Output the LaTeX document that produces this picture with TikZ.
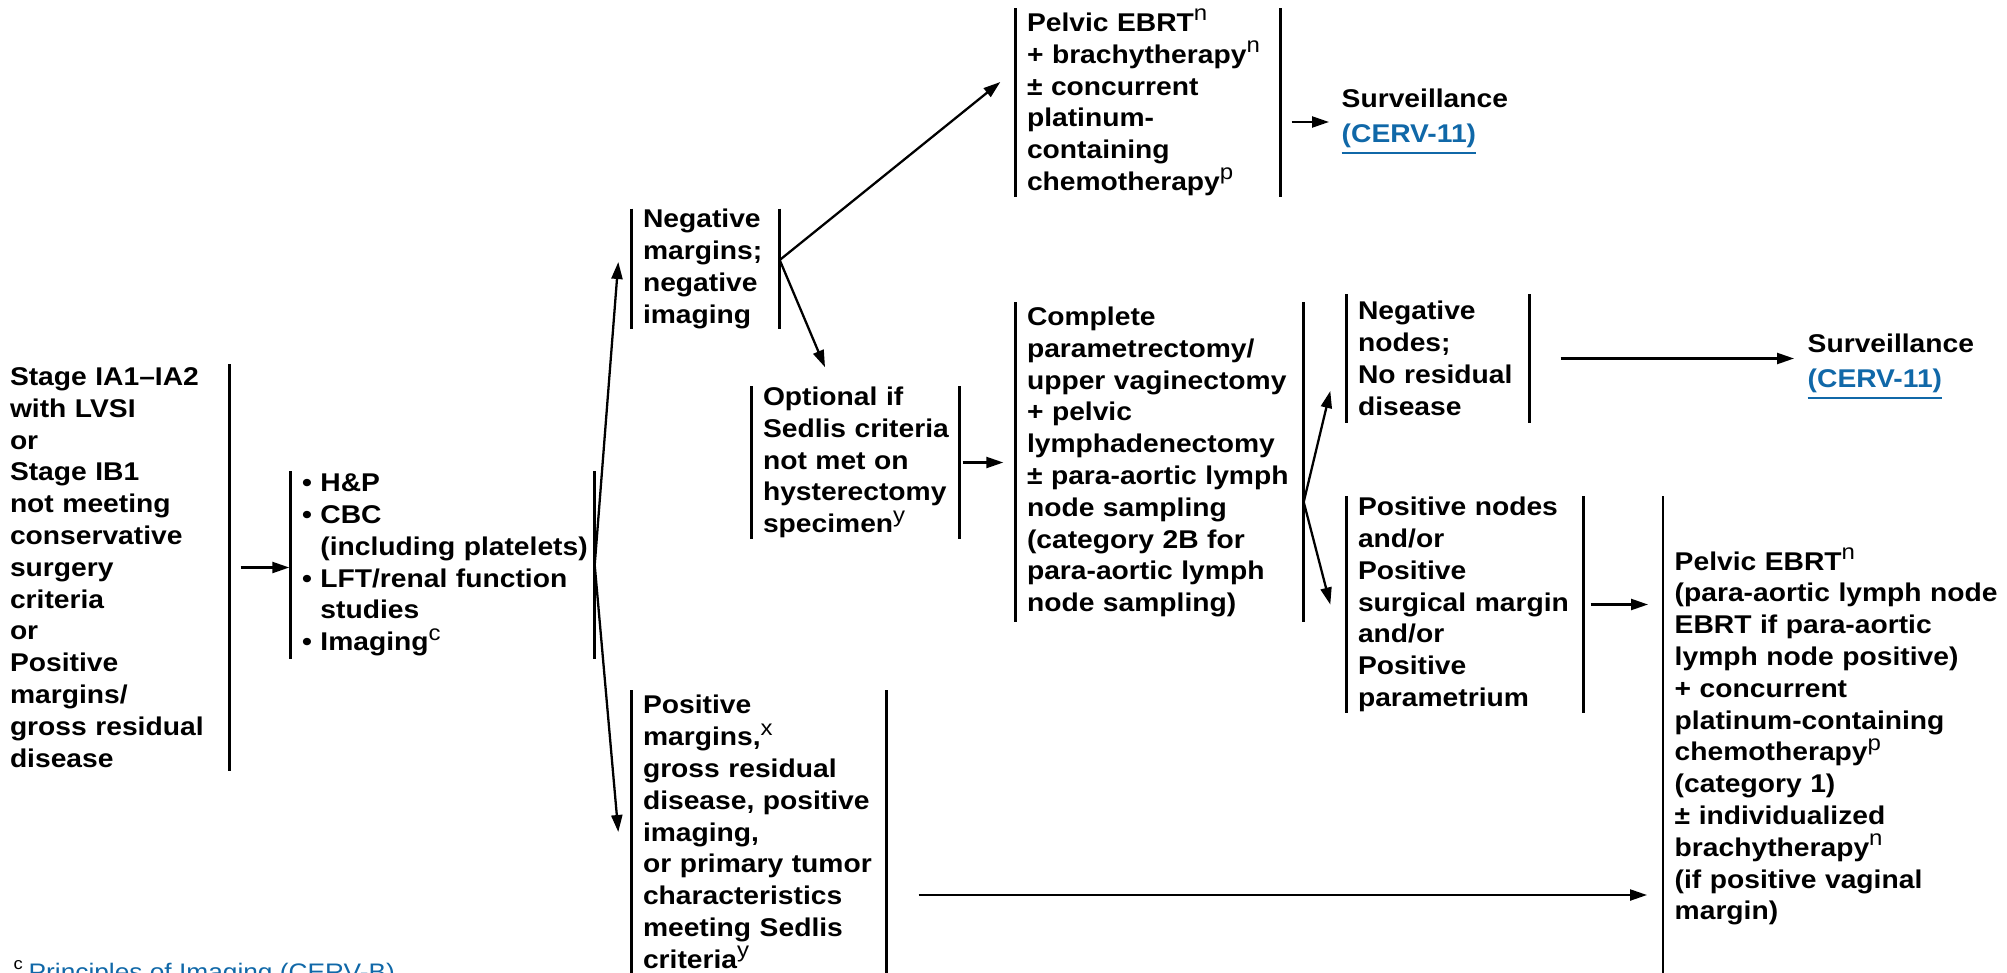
\documentclass[tikz,border=0pt]{standalone}
\usepackage{fontspec}
\setmainfont{Liberation Sans}[FakeStretch=1.10]
\usetikzlibrary{arrows.meta}
\definecolor{linkblue}{RGB}{16,104,168}
\newcommand{\fnref}[1]{\textsuperscript{\fontsize{6.2}{6}\selectfont\mdseries #1}}

\begin{document}
\begin{tikzpicture}[
  box/.style={inner sep=0pt, align=left, font=\fontsize{7.3}{9.05}\selectfont\bfseries},
  bar/.style={line width=0.75pt},
  arr/.style={line width=0.65pt, -{Triangle[length=1.7mm,width=1.1mm]}}
]
  \useasboundingbox (0,0) rectangle (20.07,9.72);

  \node[box, text width=2.19cm, minimum height=4.05cm] at (1.195,4.045) (stage)
    {Stage IA1–IA2\\ with LVSI\\ or\\ Stage IB1\\ not meeting\\ conservative\\ surgery\\ criteria\\ or\\ Positive\\ margins/\\ gross residual\\ disease};

  \node[box, text width=2.92cm, minimum height=1.86cm] at (4.48,4.07) (workup)
    {• H\&P\\ • CBC\\ \phantom{• }(including platelets)\\ • LFT/renal function\\ \phantom{• }studies\\ • Imaging\fnref{c}};

  \node[box, text width=1.36cm, minimum height=1.16cm] at (7.11,7.03) (negm)
    {Negative\\ margins;\\ negative\\ imaging};
  \node[box, text width=2.43cm, minimum height=2.82cm] at (7.645,1.40) (posm)
    {Positive\\ margins,\fnref{x}\\ gross residual\\ disease, positive\\ imaging,\\ or primary tumor\\ characteristics\\ meeting Sedlis\\ criteria\fnref{y}};

  \node[box, text width=2.53cm, minimum height=1.85cm] at (11.535,8.695) (pelvic)
    {Pelvic EBRT\fnref{n}\\ + brachytherapy\fnref{n}\\ ± concurrent\\ platinum-\\ containing\\ chemotherapy\fnref{p}};
  \node[box, anchor=west] at (13.41,8.50) (surv1)
    {Surveillance\\[1pt] \textcolor{linkblue}{\underline{(CERV-11)}}};

  \node[box, text width=1.96cm, minimum height=1.51cm] at (8.61,5.095) (opt)
    {Optional if\\ Sedlis criteria\\ not met on\\ hysterectomy\\ specimen\fnref{y}};
  \node[box, text width=2.76cm, minimum height=3.18cm] at (11.65,5.10) (comp)
    {Complete\\ parametrectomy/\\ upper vaginectomy\\ + pelvic\\ lymphadenectomy\\ ± para-aortic lymph\\ node sampling\\ (category 2B for\\ para-aortic lymph\\ node sampling)};

  \node[box, text width=1.71cm, minimum height=1.27cm] at (14.435,6.135) (negn)
    {Negative\\ nodes;\\ No residual\\ disease};
  \node[box, anchor=west] at (18.07,6.05) (surv2)
    {Surveillance\\[1pt] \textcolor{linkblue}{\underline{(CERV-11)}}};
  \node[box, text width=2.25cm, minimum height=2.11cm] at (14.705,3.675) (posn)
    {Positive nodes\\ and/or\\ Positive\\ surgical margin\\ and/or\\ Positive\\ parametrium};

  \node[box, anchor=west, text width=3.3cm] at (16.74,2.355) (final)
    {Pelvic EBRT\fnref{n}\\ (para-aortic lymph node\\ EBRT if para-aortic\\ lymph node positive)\\ + concurrent\\ platinum-containing\\ chemotherapy\fnref{p}\\ (category 1)\\ ± individualized\\ brachytherapy\fnref{n}\\ (if positive vaginal\\ margin)};

  \node[inner sep=0pt, anchor=base west, font=\fontsize{6.8}{8}\selectfont] at (0.13,-0.08) (note)
    {\textsuperscript{c}\,\textcolor{linkblue}{Principles of Imaging (CERV-B)}};

  % side bars
  \draw[bar] (stage.north east) -- (stage.south east);
  \draw[bar] ([xshift=-1.1mm]workup.north west) -- ([xshift=-1.1mm]workup.south west) (workup.north east) -- (workup.south east);
  \draw[bar] ([xshift=-1.1mm]negm.north west) -- ([xshift=-1.1mm]negm.south west) (negm.north east) -- (negm.south east);
  \draw[bar] ([xshift=-1.1mm]posm.north west) -- ([xshift=-1.1mm,yshift=-5mm]posm.south west) (posm.north east) -- ([yshift=-5mm]posm.south east);
  \draw[bar] ([xshift=-1.1mm]pelvic.north west) -- ([xshift=-1.1mm]pelvic.south west) (pelvic.north east) -- (pelvic.south east);
  \draw[bar] ([xshift=-1.1mm]opt.north west) -- ([xshift=-1.1mm]opt.south west) (opt.north east) -- (opt.south east);
  \draw[bar] ([xshift=-1.1mm]comp.north west) -- ([xshift=-1.1mm]comp.south west) (comp.north east) -- (comp.south east);
  \draw[bar] ([xshift=-1.1mm]negn.north west) -- ([xshift=-1.1mm]negn.south west) (negn.north east) -- (negn.south east);
  \draw[bar] ([xshift=-1.1mm]posn.north west) -- ([xshift=-1.1mm]posn.south west) (posn.north east) -- (posn.south east);
  \draw[bar] ([xshift=-1.1mm]final.west |- posn.north) -- ([xshift=-1.1mm,yshift=-1cm]final.south west);

  % arrows
  \coordinate (negfork) at ([yshift=0.9mm]negm.east);
  \coordinate (compfork) at ([yshift=-4mm]comp.east);

  \draw[arr] ([xshift=1.1mm]stage.east) -- ([xshift=-1.2mm]stage.east -| workup.west);
  \draw[arr] (workup.east) -- ([xshift=-2.4mm,yshift=0.7mm]negm.west);
  \draw[arr] (workup.east) -- ([xshift=-2.4mm]posm.west);
  \draw[arr] (negfork) -- ([xshift=-2.6mm,yshift=2.05mm]pelvic.west);
  \draw[arr] (negfork) -- ([xshift=-3.6mm,yshift=1.9mm]opt.north);
  \draw[arr] ([xshift=1.1mm]pelvic.east |- surv1.west) -- ([xshift=-1.2mm]surv1.west);
  \draw[arr] ([xshift=0.3mm]opt.east) -- ([xshift=-2.3mm]opt.east -| comp.west);
  \draw[arr] (compfork) -- ([xshift=-2.7mm,yshift=-3.25mm]negn.west);
  \draw[arr] (compfork) -- ([xshift=-2.7mm]posn.west);
  \draw[arr] ([xshift=3.1mm]negn.east) -- ([xshift=-1.3mm]negn.east -| surv2.west);
  \draw[arr] ([xshift=0.7mm]posn.east) -- ([xshift=-2.6mm]posn.east -| final.west);
  \draw[arr] ([xshift=3.2mm,yshift=-6.3mm]posm.east) -- ([xshift=-2.7mm,yshift=-6.3mm]posm.east -| final.west);
\end{tikzpicture}
\end{document}
